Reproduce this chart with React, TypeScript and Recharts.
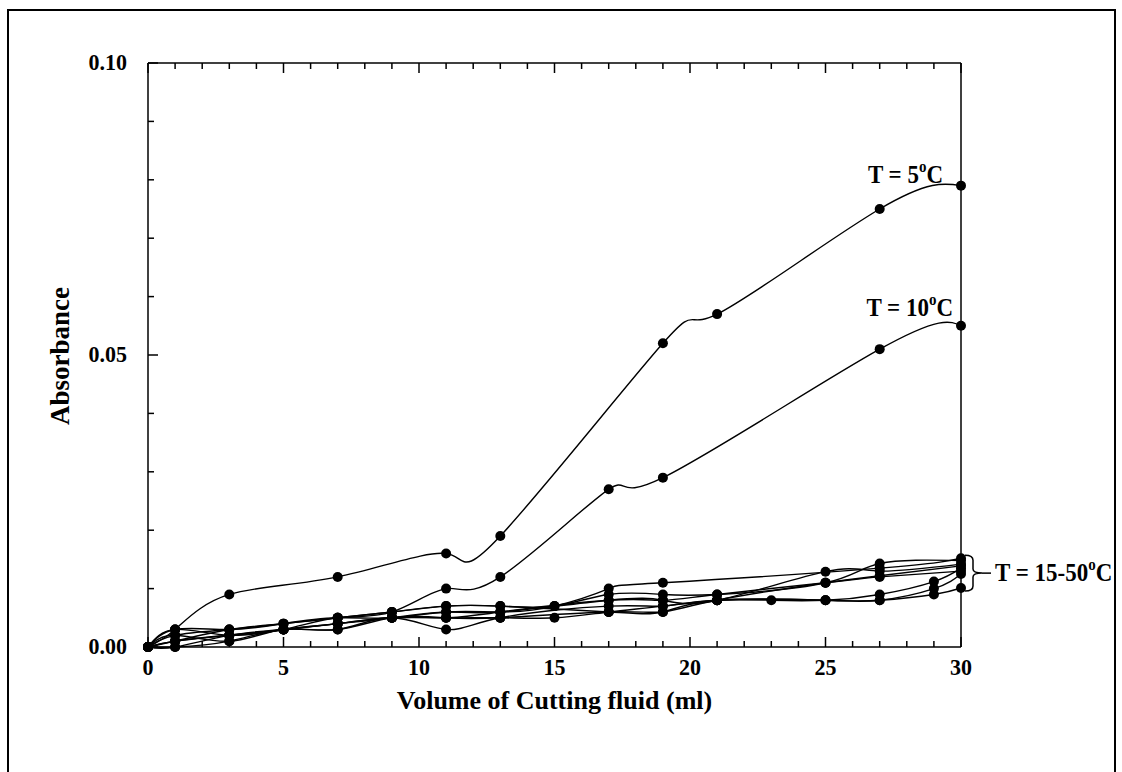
import React from 'react';
import {
  LineChart,
  Line,
  XAxis,
  YAxis,
  ReferenceDot,
  ReferenceArea,
} from 'recharts';

// Volume of cutting fluid added (ml)
const volumes = [0, 1, 3, 5, 7, 9, 11, 13, 15, 17, 19, 21, 23, 25, 27, 29, 30];

// Absorbance readings per temperature (null = not measured at that volume)
const t5 = [0, 0.003, 0.009, null, 0.012, null, 0.016, 0.019, null, null, 0.052, 0.057, null, null, 0.075, null, 0.079];
const t10 = [0, 0.001, 0.002, 0.003, 0.005, 0.006, 0.010, 0.012, null, 0.027, 0.029, null, null, null, 0.051, null, 0.055];
const t15 = [0, 0.003, 0.003, 0.004, 0.005, 0.005, 0.006, 0.006, 0.007, 0.010, 0.011, null, null, null, 0.0135, null, 0.0152];
const t20 = [0, 0.002, 0.003, 0.004, 0.005, 0.006, 0.007, 0.007, 0.007, 0.009, 0.009, 0.009, null, 0.011, 0.0143, null, 0.0148];
const t25 = [0, 0.001, 0.002, 0.003, 0.004, 0.005, 0.006, 0.006, null, 0.008, 0.008, 0.008, null, 0.0129, 0.013, null, 0.0142];
const t30 = [0, 0.000, 0.002, 0.003, 0.004, 0.005, 0.005, 0.005, 0.005, 0.006, 0.007, 0.008, 0.008, 0.008, 0.009, 0.0112, 0.0135];
const t35 = [0, 0.002, 0.001, 0.003, 0.003, 0.005, 0.003, 0.005, null, 0.007, 0.007, 0.008, null, 0.008, 0.008, 0.010, 0.0125];
const t40 = [0, 0.001, 0.003, 0.004, 0.005, 0.006, 0.007, 0.007, null, 0.006, 0.006, 0.008, null, 0.008, 0.008, 0.009, 0.0101];
const t45 = [0, 0.003, 0.002, 0.003, 0.004, 0.005, 0.005, 0.006, null, 0.008, 0.008, 0.009, null, 0.011, 0.012, null, 0.013];
const t50 = [0, 0.000, 0.001, 0.003, 0.003, 0.005, 0.005, 0.005, null, 0.006, 0.006, 0.008, null, 0.011, 0.0122, null, 0.0139];

const series: { key: string; values: (number | null)[] }[] = [
  { key: 't5', values: t5 },
  { key: 't10', values: t10 },
  { key: 't15', values: t15 },
  { key: 't20', values: t20 },
  { key: 't25', values: t25 },
  { key: 't30', values: t30 },
  { key: 't35', values: t35 },
  { key: 't40', values: t40 },
  { key: 't45', values: t45 },
  { key: 't50', values: t50 },
];
const clusterKeys = ['t15', 't20', 't25', 't30', 't35', 't40', 't45', 't50'];

const xTicks = [0, 1, 2, 3, 4, 5, 6, 7, 8, 9, 10, 11, 12, 13, 14, 15, 16, 17, 18, 19, 20, 21, 22, 23, 24, 25, 26, 27, 28, 29, 30];
const yTicks = [0, 0.01, 0.02, 0.03, 0.04, 0.05, 0.06, 0.07, 0.08, 0.09, 0.1];

const data = volumes.map((v, i) => {
  const row: Record<string, number | null> = { volume: v };
  series.forEach((s) => (row[s.key] = s.values[i]));
  return row;
});

const last = (arr: (number | null)[]) => arr[arr.length - 1] as number;
const clusterEnds = series.filter((s) => clusterKeys.includes(s.key)).map((s) => last(s.values));

const FONT = '"Liberation Serif", "Times New Roman", serif';
const INK = '#000';

const isMajorX = (v: number) => Math.round(v) % 5 === 0;
const isMajorY = (v: number) => Math.round(v * 100) % 5 === 0;

// bold serif text, slightly stretched vertically
const Txt = ({ x, y, anchor = 'start', size = 22, children }: any) => (
  <text
    transform={`translate(${x},${y}) scale(1,1.08)`}
    textAnchor={anchor}
    fontFamily={FONT}
    fontWeight="bold"
    fontSize={size}
    fill={INK}
  >
    {children}
  </text>
);

const BottomTick = ({ x, y, payload }: any) => {
  const major = isMajorX(payload.value);
  return (
    <g>
      <line x1={x} x2={x} y1={y} y2={y - (major ? 10 : 6)} stroke={INK} strokeWidth={1.5} />
      {major && (
        <Txt x={x} y={y + 28} anchor="middle">
          {payload.value}
        </Txt>
      )}
    </g>
  );
};

const TopTick = ({ x, y, payload }: any) => {
  const major = isMajorX(payload.value);
  return <line x1={x} x2={x} y1={y} y2={y + (major ? 10 : 6)} stroke={INK} strokeWidth={1.5} />;
};

const LeftTick = ({ x, y, payload }: any) => {
  const major = isMajorY(payload.value);
  return (
    <g>
      <line x1={x} x2={x + (major ? 10 : 6)} y1={y} y2={y} stroke={INK} strokeWidth={1.5} />
      {major && (
        <Txt x={x - 21} y={y + 7} anchor="end">
          {payload.value.toFixed(2)}
        </Txt>
      )}
    </g>
  );
};

const RightTick = ({ x, y, payload }: any) => {
  const major = isMajorY(payload.value);
  return <line x1={x} x2={x - (major ? 10 : 6)} y1={y} y2={y} stroke={INK} strokeWidth={1.5} />;
};

// "T = n°C" tag placed above-left of a series' last point
const TempTag = ({ viewBox, text, dx, dy }: any) => {
  const { x, y } = viewBox;
  return (
    <Txt x={x + dx} y={y + dy} anchor="end" size={23}>
      {`T = ${text}`}
      <tspan fontSize={15} dy={-10}>o</tspan>
      <tspan dy={10}>C</tspan>
    </Txt>
  );
};

// curly brace grouping the 15-50 °C end points
const BraceTag = ({ viewBox }: any) => {
  const { x, y, height } = viewBox;
  const top = y - 3;
  const bot = y + height + 3;
  const mid = (top + bot) / 2;
  const x0 = x + 4;
  const path = [
    `M ${x0} ${top}`,
    `Q ${x0 + 8} ${top} ${x0 + 8} ${top + 5}`,
    `L ${x0 + 8} ${mid - 4}`,
    `Q ${x0 + 8} ${mid} ${x0 + 17} ${mid}`,
    `Q ${x0 + 8} ${mid} ${x0 + 8} ${mid + 4}`,
    `L ${x0 + 8} ${bot - 5}`,
    `Q ${x0 + 8} ${bot} ${x0} ${bot}`,
  ].join(' ');
  return (
    <g>
      <path d={path} fill="none" stroke={INK} strokeWidth={1.5} />
      <line x1={x0 + 17} x2={x0 + 26} y1={mid} y2={mid} stroke={INK} strokeWidth={1.5} />
      <Txt x={x0 + 30} y={mid + 8} size={23}>
        {'T = 15-50'}
        <tspan fontSize={15} dy={-10}>o</tspan>
        <tspan dy={10}>C</tspan>
      </Txt>
    </g>
  );
};

const App: React.FC = () => {
  return (
    <div style={{ position: 'absolute', left: 0, top: 0, width: 1122, height: 772, overflow: 'hidden', background: '#fff' }}>
      <div
        style={{
          position: 'absolute',
          left: 7,
          top: 9,
          width: 1105,
          height: 800,
          borderTop: '2px solid #000',
          borderLeft: '2px solid #000',
          borderRight: '2px solid #000',
        }}
      />
      <div style={{ position: 'absolute', left: 0, top: 0 }}>
        <LineChart width={1122} height={772} data={data} margin={{ top: 53, right: 151, bottom: 95, left: 88 }}>
          <XAxis
            dataKey="volume"
            type="number"
            domain={[0, 30]}
            ticks={xTicks}
            interval={0}
            height={30}
            tickSize={0}
            tickMargin={0}
            tickLine={false}
            axisLine={{ stroke: INK, strokeWidth: 1.5 }}
            tick={<BottomTick />}
          />
          <XAxis
            xAxisId="top"
            orientation="top"
            dataKey="volume"
            type="number"
            domain={[0, 30]}
            ticks={xTicks}
            interval={0}
            height={10}
            tickSize={0}
            tickMargin={0}
            tickLine={false}
            axisLine={{ stroke: INK, strokeWidth: 1.5 }}
            tick={<TopTick />}
          />
          <YAxis
            type="number"
            domain={[0, 0.1]}
            ticks={yTicks}
            interval={0}
            width={60}
            tickSize={0}
            tickMargin={0}
            tickLine={false}
            axisLine={{ stroke: INK, strokeWidth: 1.5 }}
            tick={<LeftTick />}
          />
          <YAxis
            yAxisId="r"
            orientation="right"
            type="number"
            domain={[0, 0.1]}
            ticks={yTicks}
            interval={0}
            width={10}
            tickSize={0}
            tickMargin={0}
            tickLine={false}
            axisLine={{ stroke: INK, strokeWidth: 1.5 }}
            tick={<RightTick />}
          />
          {series.map((s) => (
            <Line
              key={s.key}
              dataKey={s.key}
              type="natural"
              stroke={INK}
              strokeWidth={1.4}
              connectNulls
              dot={{ r: 5, fill: INK, stroke: INK, strokeWidth: 0 }}
              activeDot={false}
              isAnimationActive={false}
            />
          ))}
          <ReferenceDot
            x={30}
            y={last(t5)}
            r={0}
            fill="none"
            stroke="none"
            label={<TempTag text="5" dx={-18} dy={-3} />}
          />
          <ReferenceDot
            x={30}
            y={last(t10)}
            r={0}
            fill="none"
            stroke="none"
            label={<TempTag text="10" dx={-8} dy={-10} />}
          />
          <ReferenceArea
            x1={30}
            x2={30}
            y1={Math.min(...clusterEnds)}
            y2={Math.max(...clusterEnds)}
            fill="none"
            stroke="none"
            ifOverflow="visible"
            label={<BraceTag />}
          />
        </LineChart>
      </div>
      <div
        style={{
          position: 'absolute',
          left: 148,
          width: 813,
          top: 686,
          textAlign: 'center',
          fontFamily: FONT,
          fontWeight: 'bold',
          fontSize: 26,
          color: INK,
        }}
      >
        Volume of Cutting fluid (ml)
      </div>
      <div
        style={{
          position: 'absolute',
          left: 60,
          top: 356,
          transform: 'translate(-50%, -50%) rotate(-90deg)',
          fontFamily: FONT,
          fontWeight: 'bold',
          fontSize: 27,
          color: INK,
          whiteSpace: 'nowrap',
        }}
      >
        Absorbance
      </div>
    </div>
  );
};

export default App;
